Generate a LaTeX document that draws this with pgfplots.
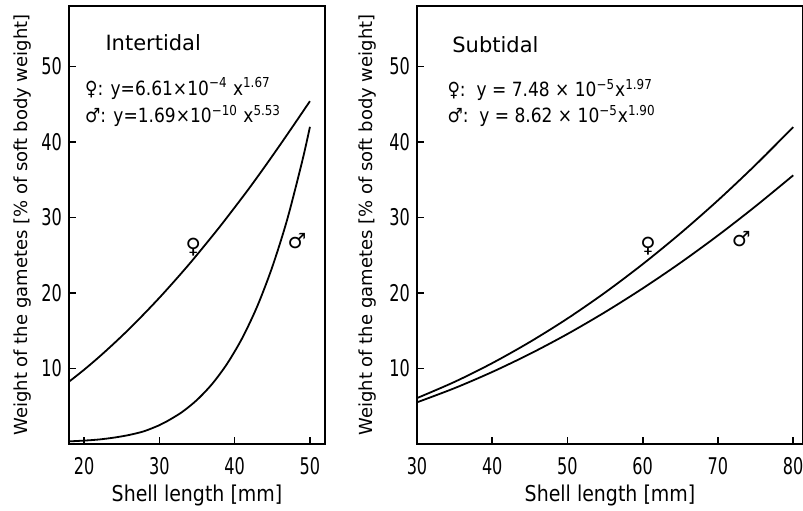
\documentclass[border=0pt]{standalone}
\usepackage{fontspec}
\setmainfont{DejaVu Sans}
\newfontfamily\tickfont[FakeStretch=0.7]{DejaVu Sans}
\newfontfamily\eqfont[FakeStretch=0.87]{DejaVu Sans}
\usepackage{pgfplots}
\pgfplotsset{compat=1.18}

\pgfplotsset{
  gam/.style={
    scale only axis, height=219pt,
    ymin=0, ymax=58, ytick={10,20,30,40,50},
    xtick pos=bottom, ytick pos=left,
    tick align=inside, major tick length=3.5pt,
    axis line style={line width=0.8pt},
    tick style={line width=0.8pt, black},
    /pgf/number format/assume math mode=true,
    ticklabel style={font=\tickfont\fontsize{11.5}{13}\selectfont},
    xticklabel style={anchor=base, yshift=-15pt},
    xlabel={Shell length [mm]},
    ylabel={Weight of the gametes [\% of soft body weight]},
    xlabel style={font=\eqfont\fontsize{10.9}{13}\selectfont,
      at={(axis description cs:0.5,0)}, anchor=base, yshift=-28.5pt},
    ylabel style={font=\fontsize{9}{11}\selectfont},
  },
  curve/.style={black, line width=0.9pt, smooth, no markers},
}
\tikzset{
  note/.style={font=\eqfont\fontsize{9.8}{12}\selectfont, inner sep=0pt},
  ttl/.style={font=\fontsize{10.5}{12}\selectfont, inner sep=0pt},
  sym/.style={font=\fontsize{10.5}{12}\selectfont, inner sep=0pt},
}

\begin{document}
\begin{tikzpicture}
\useasboundingbox (-34.5pt,-33pt) rectangle (367pt,222pt);

% intertidal
\begin{axis}[gam, at={(0,0)}, anchor=south west, width=128pt,
  xmin=18, xmax=52, xtick={20,30,40,50},
  ylabel style={at={(axis description cs:-0.18,0.5)}, anchor=center}]
\addplot[curve] coordinates {
(18,8.25)(20,9.83)(22,11.53)(24,13.34)(26,15.24)(28,17.26)(30,19.36)
(32,21.57)(34,23.86)(36,26.27)(38,28.74)(40,31.32)(42,33.96)(44,36.72)
(46,39.56)(48,42.46)(50,45.4)};
\addplot[curve] coordinates {
(18,0.35)(20,0.45)(22,0.6)(24,0.85)(26,1.2)(28,1.7)(30,2.49)(31,3.0)(33,4.22)
(35,5.84)(37,7.94)(39,10.63)(41,14.01)(43,18.23)(45,23.45)(47,29.8)
(49,37.56)(50,42.0)};
\node[ttl, anchor=base west] at (axis cs:22.8,52.1) {Intertidal};
\node[note, anchor=base west] at (axis cs:20.1,46.2)
  {♀: y=6.61×10\textsuperscript{−4} x\textsuperscript{1.67}};
\node[note, anchor=base west] at (axis cs:20.1,42.6)
  {♂: y=1.69×10\textsuperscript{−10} x\textsuperscript{5.53}};
\node[sym] at (axis cs:34.5,26.1) {♀};
\node[sym] at (axis cs:48.3,26.9) {♂};
\end{axis}

% subtidal
\begin{axis}[gam, at={(174pt,0)}, anchor=south west, width=193pt,
  xmin=30, xmax=81.3, xtick={30,40,50,60,70,80},
  ylabel style={at={(axis description cs:-0.127,0.5)}, anchor=center}]
\addplot[curve] coordinates {
(30,6.08)(35,8.23)(40,10.71)(45,13.51)(50,16.62)(55,20.06)(60,23.82)
(65,27.89)(70,32.27)(75,36.97)(80,41.97)};
\addplot[curve] coordinates {
(30,5.52)(35,7.40)(40,9.54)(45,11.93)(50,14.57)(55,17.47)(60,20.61)
(65,23.99)(70,27.62)(75,31.49)(80,35.58)};
\node[ttl, anchor=base west] at (axis cs:34.65,51.85) {Subtidal};
\node[note, anchor=base west] at (axis cs:34.0,46.0)
  {♀:\ \ y = 7.48 × 10\textsuperscript{−5}x\textsuperscript{1.97}};
\node[note, anchor=base west] at (axis cs:34.0,42.6)
  {♂:\ \ y = 8.62 × 10\textsuperscript{−5}x\textsuperscript{1.90}};
\node[sym] at (axis cs:60.7,26.2) {♀};
\node[sym] at (axis cs:73.1,27.1) {♂};
\end{axis}
\end{tikzpicture}
\end{document}
